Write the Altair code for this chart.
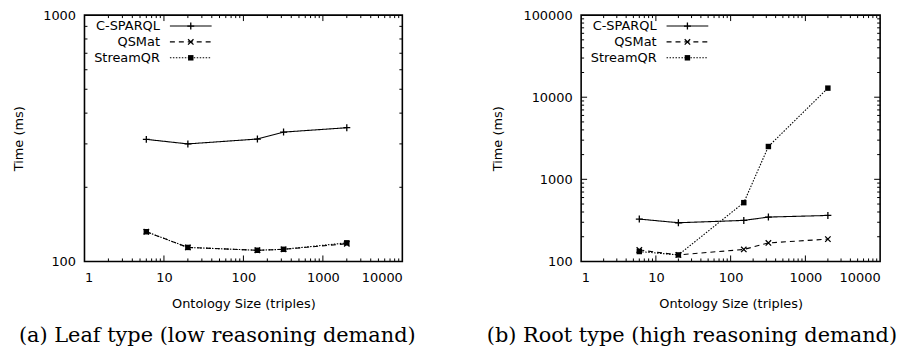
import altair as alt
import pandas as pd

# ---------------- data ----------------
sizes = [6, 20, 150, 320, 2000]
series_names = ["C-SPARQL", "QSMat", "StreamQR"]

leaf_csparql = [313, 300, 314, 335, 349]
leaf_qsmat = [132, 114, 111, 112, 118]
leaf_streamqr = [132, 114, 111, 112, 119]

root_csparql = [328, 296, 316, 347, 363]
root_qsmat = [138, 120, 140, 168, 187]
root_streamqr = [132, 120, 520, 2510, 12900]

x_labels = [1, 10, 100, 1000, 10000]
x_major_inner = [10, 100, 1000]
x_minor = [m * 10 ** k for k in range(4) for m in range(2, 10)]

leaf_y_domain = [100, 1000]
leaf_y_labels = [100, 1000]
leaf_y_major_inner = []
leaf_y_minor = [m * 100 for m in range(2, 10)]

root_y_domain = [100, 100000]
root_y_labels = [100, 1000, 10000, 100000]
root_y_major_inner = [1000, 10000]
root_y_minor = [m * 10 ** k for k in range(2, 5) for m in range(2, 10)]

caption_a = "(a) Leaf type (low reasoning demand)"
caption_b = "(b) Root type (high reasoning demand)"
x_title = "Ontology Size (triples)"
y_title = "Time (ms)"

# ---------------- styles ----------------
FONT = "DejaVu Sans"
SERIF = "DejaVu Serif"
dashes = {"C-SPARQL": [1, 0], "QSMat": [5, 4], "StreamQR": [1.5, 1.5]}
shapes = {
    "C-SPARQL": "M-1,0H1M0,-1V1",
    "QSMat": "M-1,-1L1,1M-1,1L1,-1",
    "StreamQR": "square",
}
filled = {"C-SPARQL": False, "QSMat": False, "StreamQR": True}
shape_sizes = {"C-SPARQL": 49, "QSMat": 30, "StreamQR": 30}
legend_rows = [11, 27, 43]


def marker(name):
    return dict(shape=shapes[name], filled=filled[name], color="black",
                strokeWidth=1.3 if not filled[name] else 0.8,
                size=shape_sizes[name], opacity=1)


def panel(vals, y_domain, y_labels, y_major_inner, y_minor, width, height,
          caption, cap_x, ytitle_x):
    rows = []
    for name, ys in zip(series_names, vals):
        for s, t in zip(sizes, ys):
            rows.append({"size": s, "time": t, "series": name})
    df = pd.DataFrame(rows)

    xs = alt.Scale(type="log", domain=[1, 10000], nice=False)
    yscale = alt.Scale(type="log", domain=y_domain, nice=False)

    xaxis = alt.Axis(values=x_labels, format="d", ticks=False, tickSize=0,
                     domain=False, grid=False, labelPadding=10,
                     labelFont=FONT, labelFontSize=13, labelColor="black",
                     title=x_title, titleFont=FONT, titleFontSize=13,
                     titleFontWeight="normal", titleColor="black",
                     titleX=width / 2, titleY=42, titleAlign="center",
                     titleBaseline="middle")
    yaxis = alt.Axis(values=y_labels, format="d", ticks=False, tickSize=0,
                     domain=False, grid=False, labelPadding=9,
                     labelFont=FONT, labelFontSize=13, labelColor="black",
                     title=y_title, titleFont=FONT, titleFontSize=13,
                     titleFontWeight="normal", titleColor="black",
                     titleX=ytitle_x, titleY=height / 2, titleAlign="center",
                     titleBaseline="middle")

    def X(field):
        return alt.X(field, scale=xs, axis=xaxis, title=x_title)

    def Y(field):
        return alt.Y(field, scale=yscale, axis=yaxis, title=y_title)

    lines = alt.Chart(df).mark_line(color="black", strokeWidth=1.1).encode(
        x=X("size:Q"),
        y=Y("time:Q"),
        strokeDash=alt.StrokeDash(
            "series:N",
            scale=alt.Scale(domain=series_names,
                            range=[dashes[n] for n in series_names]),
            legend=None),
        detail="series:N",
    )
    layers = [lines]
    for name in series_names:
        sub = df[df.series == name]
        layers.append(
            alt.Chart(sub).mark_point(**marker(name)).encode(
                x=X("size:Q"), y=Y("time:Q"))
        )

    # inward ticks on all four sides
    def xticks(vals_, length):
        d = pd.DataFrame({"size": vals_})
        bottom = alt.Chart(d).mark_rule(color="black", strokeWidth=1).encode(
            x=X("size:Q"), y=alt.value(height), y2=alt.value(height - length))
        top = alt.Chart(d).mark_rule(color="black", strokeWidth=1).encode(
            x=X("size:Q"), y=alt.value(0), y2=alt.value(length))
        return [bottom, top]

    def yticks(vals_, length):
        if not vals_:
            return []
        d = pd.DataFrame({"time": vals_})
        left_ = alt.Chart(d).mark_rule(color="black", strokeWidth=1).encode(
            y=Y("time:Q"), x=alt.value(0), x2=alt.value(length))
        right_ = alt.Chart(d).mark_rule(color="black", strokeWidth=1).encode(
            y=Y("time:Q"), x=alt.value(width), x2=alt.value(width - length))
        return [left_, right_]

    layers += xticks(x_minor, 3) + xticks(x_major_inner, 6)
    layers += yticks(y_minor, 3) + yticks(y_major_inner, 6)

    # legend (gnuplot style: label, then line sample with marker)
    for i, name in enumerate(series_names):
        ld = pd.DataFrame({"label": [name]})
        ry = legend_rows[i]
        layers.append(alt.Chart(ld).mark_text(
            align="right", baseline="middle", font=FONT, fontSize=13,
            color="black").encode(x=alt.value(76), y=alt.value(ry),
                                  text="label:N"))
        layers.append(alt.Chart(ld).mark_rule(
            color="black", strokeWidth=1.1, strokeDash=dashes[name]).encode(
            x=alt.value(86), x2=alt.value(128), y=alt.value(ry)))
        layers.append(alt.Chart(ld).mark_point(**marker(name)).encode(
            x=alt.value(107), y=alt.value(ry)))

    cd = pd.DataFrame({"cap": [caption]})
    layers.append(alt.Chart(cd).mark_text(
        align="left", baseline="middle", font=SERIF, fontSize=21,
        color="black").encode(x=alt.value(cap_x), y=alt.value(height + 75),
                              text="cap:N"))

    return alt.layer(*layers).properties(width=width, height=height)


H = 248
left = panel([leaf_csparql, leaf_qsmat, leaf_streamqr], leaf_y_domain,
             leaf_y_labels, leaf_y_major_inner, leaf_y_minor, 320, H,
             caption_a, -66, -66)
right = panel([root_csparql, root_qsmat, root_streamqr], root_y_domain,
              root_y_labels, root_y_major_inner, root_y_minor, 301, H,
              caption_b, -95, -84)

chart = alt.hconcat(left, right, spacing=180, bounds="flush").properties(
    padding={"left": 4, "top": -1, "right": 0, "bottom": 0},
    background="white",
).configure_view(stroke="black", strokeWidth=1.6)

chart.save("out.html", embed_options={"renderer": "svg", "actions": False})
